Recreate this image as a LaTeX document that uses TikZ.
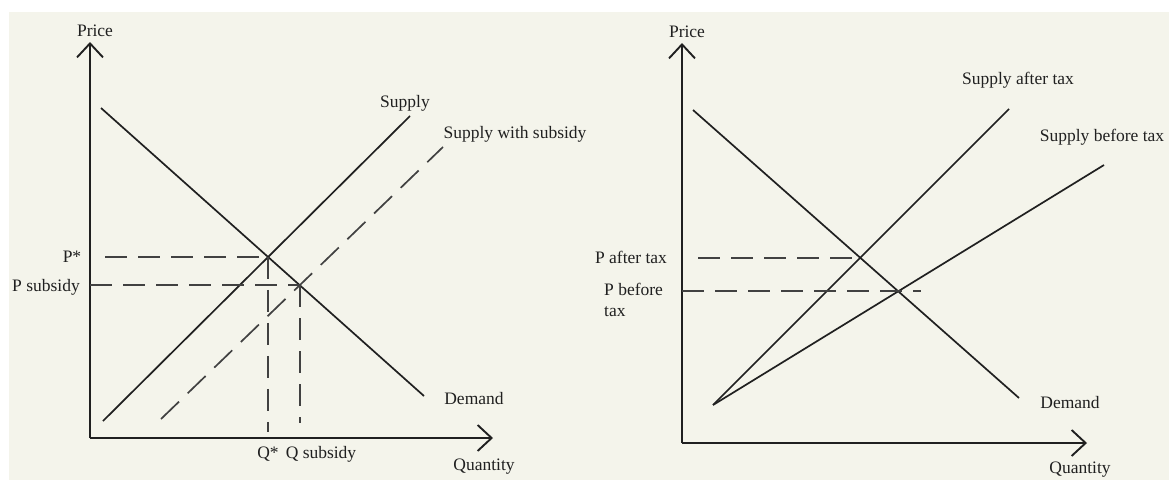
\documentclass[tikz,border=0pt]{standalone}
\usepackage{fontspec}
\setmainfont{Liberation Serif}
\usetikzlibrary{arrows.meta}
\definecolor{paper}{RGB}{244,244,235}
\definecolor{ink}{RGB}{32,32,32}
\tikzset{
  curve/.style={draw=ink, line width=1.7pt},
  guide/.style={draw=ink!85, line width=2pt, dash pattern=on 22pt off 11pt},
  axis/.style={draw=ink, line width=1.9pt, -{Straight Barb[length=14pt,width=26pt,line width=1.9pt]}},
  lbl/.style={inner sep=0pt, text=ink, font=\fontsize{17.5}{21}\selectfont}
}
\begin{document}
\begin{tikzpicture}[x=1pt,y=-1pt]
\useasboundingbox (0,0) rectangle (1169,480);
\fill[paper] (9,12) rectangle (1169,480);

% subsidy
\coordinate (o1) at (90,438);
\coordinate (y1) at (90,42);
\coordinate (x1) at (493,438);
\coordinate (d1a) at (101,108);
\coordinate (d1b) at (424,396);
\coordinate (s1a) at (103,421);
\coordinate (s1b) at (410,116);
\coordinate (w1a) at (161,419);
\coordinate (w1b) at (443,147);
\coordinate (e1) at (intersection of d1a--d1b and s1a--s1b);
\coordinate (e2) at (intersection of d1a--d1b and w1a--w1b);
\coordinate (ps) at (105,0);
\coordinate (qs) at (0,432);
\coordinate (qw) at (0,423);
\draw[axis] (o1)--(y1);
\draw[axis] (o1)--(x1);
\draw[curve] (d1a)--(d1b);
\draw[curve] (s1a)--(s1b);
\draw[guide, line width=1.7pt, dash pattern=on 25pt off 12pt] (w1a)--(w1b);
\draw[guide] (ps |- e1)--(e1);
\draw[guide] (o1 |- e2)--(e2);
\draw[guide] (e1)--(e1 |- qs);
\draw[guide] (e2)--(e2 |- qw);
\node[lbl] (p1) at (95,31) {Price};
\node[lbl] (q1) at (484,467) {Quantity};
\node[lbl] (pstar) at (72,257) {P*};
\node[lbl] (psub) at (46,287) {P subsidy};
\node[lbl] (qstar) at (268,454) {Q*};
\node[lbl] (qsub) at (321,454) {Q subsidy};
\node[lbl] (sup1) at (405,103) {Supply};
\node[lbl] (supw) at (515,134) {Supply with subsidy};
\node[lbl] (dem1) at (474,399) {Demand};

% tax
\coordinate (o2) at (682,443);
\coordinate (y2) at (682,43);
\coordinate (x2) at (1087,443);
\coordinate (d2a) at (693,110);
\coordinate (d2b) at (1019,398);
\coordinate (s2) at (713,405);
\coordinate (s2a) at (1009,109);
\coordinate (s2b) at (1104,165);
\coordinate (e3) at (intersection of d2a--d2b and s2--s2a);
\coordinate (e4) at (intersection of d2a--d2b and s2--s2b);
\coordinate (pa) at (698,0);
\coordinate (pb) at (921,0);
\draw[axis] (o2)--(y2);
\draw[axis] (o2)--(x2);
\draw[curve] (d2a)--(d2b);
\draw[curve] (s2)--(s2a);
\draw[curve] (s2)--(s2b);
\draw[guide] (pa |- e3)--(e3);
\draw[guide] (o2 |- e4)--(pb |- e4);
\node[lbl] (p2) at (687,32) {Price};
\node[lbl] (q2) at (1080,470) {Quantity};
\node[lbl] (pafter) at (631,257) {P after tax};
\node[lbl, align=left, anchor=west] (pbefore) at (604,300) {P before\\tax};
\node[lbl] (supa) at (1018,80) {Supply after tax};
\node[lbl] (supb) at (1102,137) {Supply before tax};
\node[lbl] (dem2) at (1070,403) {Demand};
\end{tikzpicture}
\end{document}
